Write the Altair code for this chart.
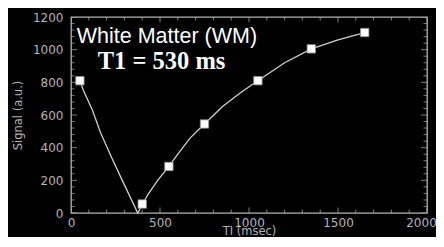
import altair as alt
import pandas as pd

# Measured points (TI in msec, signal in a.u.)
ti_points = [50, 400, 550, 750, 1050, 1350, 1650]
sig_points = [810, 55, 285, 545, 810, 1005, 1105]

# Fitted curve
fit_ti = [50, 70, 120, 165, 230, 290, 375, 430, 490, 550, 600, 670, 750, 850, 950, 1050, 1200, 1350, 1500, 1650]
fit_sig = [810, 750, 630, 495, 335, 195, 0, 110, 205, 285, 360, 460, 545, 650, 735, 810, 920, 1005, 1060, 1105]

x_label_values = [0, 500, 1000, 1500, 2000]
y_label_values = [0, 200, 400, 600, 800, 1000, 1200]
x_ticks = list(range(0, 2001, 100))
y_ticks = list(range(0, 1201, 40))

label1 = "White Matter (WM)"
label2 = "T1 = 530 ms"

GRAY = "#b4b4b4"
xs = alt.Scale(domain=[0, 2000], nice=False, zero=False)
ys = alt.Scale(domain=[0, 1200], nice=False, zero=False)

xaxis = alt.Axis(
    values=x_label_values, format="d", title="TI (msec)", ticks=False, domain=False, grid=False,
    labelColor=GRAY, labelFont="DejaVu Sans", labelFontSize=12, labelPadding=4,
    labelFlush=False,
    labelOffset={"condition": {"test": "datum.value == 2000", "value": -6}, "value": 0},
    titleColor=GRAY, titleFont="DejaVu Sans", titleFontSize=11.5,
    titleFontWeight="normal", titlePadding=-3)
yaxis = alt.Axis(
    values=y_label_values, format="d", title="Signal (a.u.)", ticks=False, domain=False, grid=False,
    labelColor=GRAY, labelFont="DejaVu Sans", labelFontSize=12, labelPadding=8,
    titleColor=GRAY, titleFont="DejaVu Sans", titleFontSize=11.5,
    titleFontWeight="normal", titlePadding=9)

pts = pd.DataFrame({"ti": ti_points, "sig": sig_points})
fit = pd.DataFrame({"ti": fit_ti, "sig": fit_sig})
xt = pd.DataFrame({"v": x_ticks})
yt = pd.DataFrame({"v": y_ticks})

curve = alt.Chart(fit).mark_line(color="#cfcfcf", strokeWidth=1.3).encode(
    x=alt.X("ti:Q", scale=xs, axis=xaxis),
    y=alt.Y("sig:Q", scale=ys, axis=yaxis),
)

points = alt.Chart(pts).mark_point(shape="square", filled=True, size=70, fill="white",
                                    stroke="#909090", strokeWidth=0.8, opacity=1).encode(
    x=alt.X("ti:Q", scale=xs, axis=xaxis),
    y=alt.Y("sig:Q", scale=ys, axis=yaxis),
)

xt_bottom = alt.Chart(xt).mark_tick(orient="vertical", color=GRAY, thickness=1, clip=True).encode(
    x=alt.X("v:Q", scale=xs, axis=xaxis), y=alt.YDatum(0, scale=ys, axis=yaxis),
    size=alt.condition("datum.v % 500 == 0", alt.value(11), alt.value(7)))
xt_top = alt.Chart(xt).mark_tick(orient="vertical", color=GRAY, thickness=1, clip=True).encode(
    x=alt.X("v:Q", scale=xs, axis=xaxis), y=alt.YDatum(1200, scale=ys, axis=yaxis),
    size=alt.condition("datum.v % 500 == 0", alt.value(11), alt.value(7)))
yt_left = alt.Chart(yt).mark_tick(orient="horizontal", color=GRAY, thickness=1, clip=True).encode(
    y=alt.Y("v:Q", scale=ys, axis=yaxis), x=alt.XDatum(0, scale=xs, axis=xaxis),
    size=alt.condition("datum.v % 200 == 0", alt.value(12), alt.value(7)))
yt_right = alt.Chart(yt).mark_tick(orient="horizontal", color=GRAY, thickness=1, clip=True).encode(
    y=alt.Y("v:Q", scale=ys, axis=yaxis), x=alt.XDatum(2000, scale=xs, axis=xaxis),
    size=alt.condition("datum.v % 200 == 0", alt.value(12), alt.value(7)))

t1 = alt.Chart(pd.DataFrame({"t": [label1]})).mark_text(
    font="Liberation Sans", fontSize=21.5, color="white", align="left", baseline="alphabetic").encode(
    x=alt.XDatum(32, scale=xs, axis=xaxis), y=alt.YDatum(1040, scale=ys, axis=yaxis), text="t:N")
t2 = alt.Chart(pd.DataFrame({"t": [label2]})).mark_text(
    font="Liberation Serif", fontSize=24.5, fontWeight="bold", color="white", align="left",
    baseline="alphabetic").encode(
    x=alt.XDatum(150, scale=xs, axis=xaxis), y=alt.YDatum(880, scale=ys, axis=yaxis), text="t:N")

chart = alt.layer(curve, xt_bottom, xt_top, yt_left, yt_right, points, t1, t2).properties(
    width=356, height=196,
    autosize=alt.AutoSizeParams(type="none"),
    padding={"left": 63, "top": 9, "right": 9, "bottom": 24},
    background="black",
).configure_view(stroke=GRAY, strokeWidth=1.3)

chart.save("out.html", embed_options={"renderer": "svg", "actions": False})
